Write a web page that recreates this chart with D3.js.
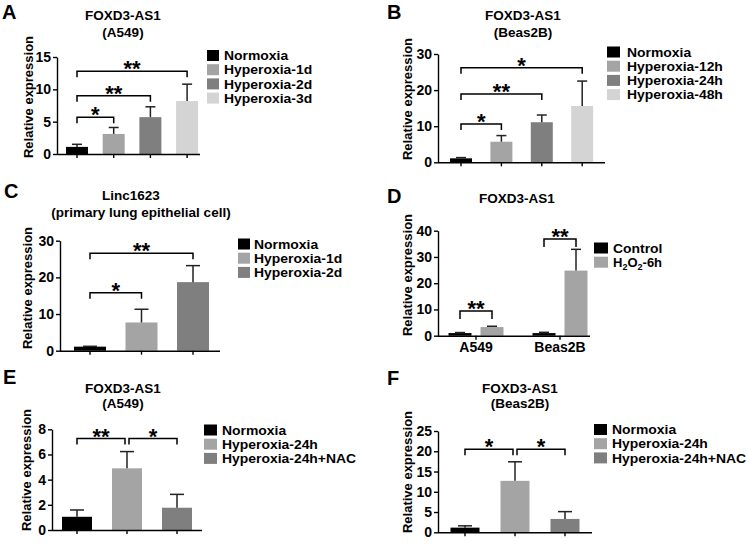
<!DOCTYPE html>
<html><head><meta charset="utf-8">
<script src="https://cdn.jsdelivr.net/npm/d3@7"></script>
<style>
body{margin:0;background:#fff;}
svg{display:block;font-family:"Liberation Sans",Arial,sans-serif;font-weight:bold;}
</style></head><body>
<svg id="fig" width="748" height="546"></svg>
<script>
// ---------------- DATA ----------------
// Panel A: FOXD3-AS1 (A549)
const aCategories = ["Normoxia", "Hyperoxia-1d", "Hyperoxia-2d", "Hyperoxia-3d"];
const aMeans = [1.1, 3.1, 5.7, 8.2];
const aErrors = [0.4, 1.0, 1.6, 2.6];
const aTicks = [0, 5, 10, 15];
const aSig = [[0, 1, "*", 5.7], [0, 2, "**", 9.0], [0, 3, "**", 12.8]];

// Panel B: FOXD3-AS1 (Beas2B)
const bCategories = ["Normoxia", "Hyperoxia-12h", "Hyperoxia-24h", "Hyperoxia-48h"];
const bMeans = [1.1, 5.7, 11.1, 15.6];
const bErrors = [0.2, 1.7, 2.0, 6.9];
const bTicks = [0, 10, 20, 30];
const bSig = [[0, 1, "*", 10.6], [0, 2, "**", 18.9], [0, 3, "*", 26.2]];

// Panel C: Linc1623 (primary lung epithelial cell)
const cCategories = ["Normoxia", "Hyperoxia-1d", "Hyperoxia-2d"];
const cMeans = [1.1, 7.7, 18.7];
const cErrors = [0.1, 3.6, 4.5];
const cTicks = [0, 10, 20, 30];
const cSig = [[0, 1, "*", 15.8], [0, 2, "**", 26.6]];

// Panel D: FOXD3-AS1, Control vs H2O2-6h
const dGroups = ["A549", "Beas2B"];
const dSeries = ["Control", "H2O2-6h"];
const dControlMeans = [1.0, 1.0];
const dControlErrors = [0.2, 0.3];
const dH2O2Means = [3.3, 24.8];
const dH2O2Errors = [0.3, 8.1];
const dTicks = [0, 10, 20, 30, 40];
const dSig = [[0, "**", 9.4], [1, "**", 36.8]];

// Panel E: FOXD3-AS1 (A549) NAC
const eCategories = ["Normoxia", "Hyperoxia-24h", "Hyperoxia-24h+NAC"];
const eMeans = [1.05, 4.9, 1.77];
const eErrors = [0.54, 1.33, 1.06];
const eTicks = [0, 2, 4, 6, 8];
const eSig = [[0, 1, "**", 7.26], [1, 2, "*", 7.26]];

// Panel F: FOXD3-AS1 (Beas2B) NAC
const fCategories = ["Normoxia", "Hyperoxia-24h", "Hyperoxia-24h+NAC"];
const fMeans = [1.15, 12.7, 3.3];
const fErrors = [0.45, 4.7, 1.8];
const fTicks = [0, 5, 10, 15, 20, 25];
const fSig = [[0, 1, "*", 20.5], [1, 2, "*", 20.5]];

// ---------------- STYLE ----------------
const BLACK = "#000000", LIGHT = "#a4a4a4", MID = "#7f7f7f", PALE = "#d4d4d4";
const svg = d3.select("#fig");
const FS = 13, TITLE_FS = 13.5, TICK_FS = 14, LEG_FS = 13, LEG_STRETCH = 1.07;

function yAxisLabel(g, cx, cy) {
  g.append("text").attr("transform", `translate(${cx + 4.6},${cy}) rotate(-90)`)
    .attr("text-anchor", "middle").attr("font-size", FS).text("Relative expression");
}
function titleLines(g, lines, cxs, ys) {
  lines.forEach((t, i) => g.append("text").attr("x", cxs[i]).attr("y", ys[i])
    .attr("text-anchor", "middle").attr("font-size", TITLE_FS).text(t));
}
function panelLetter(g, L, x, y) {
  g.append("text").attr("x", x).attr("y", y).attr("font-size", 20).text(L);
}
function styleAxis(sel) {
  sel.selectAll("path,line").attr("stroke", "#000").attr("stroke-width", 1.4);
  sel.selectAll("text").attr("font-size", TICK_FS).attr("font-weight", "bold")
    .attr("fill", "#000").attr("font-family", "Liberation Sans, Arial, sans-serif");
}
function legend(g, items, colors, bx, by, bw, tx) {
  items.forEach((t, i) => {
    const yy = by + i * 14.2;
    g.append("rect").attr("x", bx).attr("y", yy - 5.5).attr("width", bw).attr("height", 11).attr("fill", colors[i]);
    const tt = g.append("text").attr("x", tx).attr("y", yy + 4.6).attr("font-size", LEG_FS);
    if (t === "H2O2-6h") {
      tt.append("tspan").text("H");
      tt.append("tspan").attr("font-size", 9).attr("dy", 3).text("2");
      tt.append("tspan").attr("dy", -3).text("O");
      tt.append("tspan").attr("font-size", 9).attr("dy", 3).text("2");
      tt.append("tspan").attr("dy", -3).text("-6h");
    } else {
      tt.text(t);
      const w = tt.node().getComputedTextLength();
      tt.attr("textLength", w * LEG_STRETCH).attr("lengthAdjust", "spacingAndGlyphs");
    }
  });
}
function bracket(g, x1, x2, yb, tick, label) {
  g.append("path").attr("d", `M${x1},${yb + tick}V${yb}H${x2}V${yb + tick}`)
    .attr("fill", "none").attr("stroke", "#000").attr("stroke-width", 1.5);
  g.append("text").attr("x", (x1 + x2) / 2).attr("y", yb + 5).attr("text-anchor", "middle")
    .attr("font-size", 22).text(label);
}
function errBar(g, cx, yTop, yMean, capW) {
  g.append("line").attr("x1", cx).attr("x2", cx).attr("y1", yMean).attr("y2", yTop)
    .attr("stroke", "#222").attr("stroke-width", 1.5);
  g.append("line").attr("x1", cx - capW / 2).attr("x2", cx + capW / 2).attr("y1", yTop).attr("y2", yTop)
    .attr("stroke", "#222").attr("stroke-width", 1.5);
}

function barPanel(p) {
  const g = svg.append("g");
  const n = p.categories.length;
  const pad = 1 - p.bw / p.step;
  const x = d3.scaleBand().domain(p.categories)
    .range([p.c0 - p.step / 2, p.c0 + p.step * (n - 0.5)])
    .paddingInner(pad).paddingOuter(pad / 2);
  const y = d3.scaleLinear().domain([0, p.yMax]).range([p.y0, p.yTop]);
  const cx = c => x(c) + x.bandwidth() / 2;
  g.selectAll("rect.bar").data(p.means).join("rect").attr("class", "bar")
    .attr("x", (d, i) => x(p.categories[i])).attr("y", d => y(d))
    .attr("width", x.bandwidth()).attr("height", d => y(0) - y(d))
    .attr("fill", (d, i) => p.colors[i]);
  p.means.forEach((m, i) => errBar(g, cx(p.categories[i]), y(m + p.errors[i]), y(m), p.capW));
  const xa = g.append("g").attr("transform", `translate(0,${p.y0})`)
    .call(d3.axisBottom(x).tickSize(4).tickFormat("").tickSizeOuter(0));
  xa.select(".domain").attr("d", `M${p.axisX},0.5H${p.axisEnd}`);
  styleAxis(xa);
  const ya = g.append("g").attr("transform", `translate(${p.axisX},0)`)
    .call(d3.axisLeft(y).tickValues(p.ticks).tickSize(4).tickPadding(2).tickSizeOuter(0));
  styleAxis(ya);
  p.sig.forEach(s => {
    let x1 = cx(p.categories[s[0]]), x2 = cx(p.categories[s[1]]);
    if (p.split) { if (s[0] > 0) x1 += 2; else x2 -= 2; }
    bracket(g, x1, x2, y(s[3]), p.tick, s[2]);
  });
  yAxisLabel(g, p.ylab[0], p.ylab[1]);
  titleLines(g, p.title, p.titleX, p.titleY);
  panelLetter(g, p.letter, p.letterPos[0], p.letterPos[1]);
  legend(g, p.categories, p.colors, p.leg[0], p.leg[1], p.leg[2], p.leg[3]);
}

barPanel({letter: "A", letterPos: [2, 19], title: ["FOXD3-AS1", "(A549)"], titleX: [123, 123], titleY: [19.5, 36.5],
  categories: aCategories, means: aMeans, errors: aErrors, ticks: aTicks, sig: aSig, colors: [BLACK, LIGHT, MID, PALE],
  axisX: 57, axisEnd: 200, y0: 154, yTop: 57, yMax: 15, c0: 77, step: 36.7, bw: 22, capW: 10, tick: 6,
  ylab: [28.5, 97], leg: [207, 55.5, 12, 224]});

barPanel({letter: "B", letterPos: [387, 19], title: ["FOXD3-AS1", "(Beas2B)"], titleX: [523, 523], titleY: [19.5, 36.5],
  categories: bCategories, means: bMeans, errors: bErrors, ticks: bTicks, sig: bSig, colors: [BLACK, LIGHT, MID, PALE],
  axisX: 438, axisEnd: 605, y0: 162.3, yTop: 54, yMax: 30, c0: 461, step: 40.4, bw: 22, capW: 10, tick: 6,
  ylab: [407.5, 99], leg: [607, 52, 13, 627]});

barPanel({letter: "C", letterPos: [4, 198], title: ["Linc1623", "(primary lung epithelial cell)"], titleX: [131, 141], titleY: [199.5, 216.5],
  categories: cCategories, means: cMeans, errors: cErrors, ticks: cTicks, sig: cSig, colors: [BLACK, LIGHT, MID],
  axisX: 60, axisEnd: 220, y0: 350.7, yTop: 240.7, yMax: 30, c0: 90, step: 51.5, bw: 32, capW: 14, tick: 6,
  ylab: [27.5, 288], leg: [238, 244, 12, 254]});

barPanel({letter: "E", letterPos: [3, 384], title: ["FOXD3-AS1", "(A549)"], titleX: [123, 123], titleY: [392.5, 407.5],
  categories: eCategories, means: eMeans, errors: eErrors, ticks: eTicks, sig: eSig, colors: [BLACK, LIGHT, MID],
  axisX: 52, axisEnd: 202, y0: 530, yTop: 429.3, yMax: 8, c0: 77, step: 50, bw: 30, capW: 14, tick: 6, split: true,
  ylab: [26, 470], leg: [204, 430, 13, 222]});

barPanel({letter: "F", letterPos: [387, 385], title: ["FOXD3-AS1", "(Beas2B)"], titleX: [520, 520], titleY: [392.5, 407.5],
  categories: fCategories, means: fMeans, errors: fErrors, ticks: fTicks, sig: fSig, colors: [BLACK, LIGHT, MID],
  axisX: 438, axisEnd: 592, y0: 532.3, yTop: 431, yMax: 25, c0: 465, step: 50, bw: 29, capW: 14, tick: 6, split: true,
  ylab: [407.5, 472], leg: [594, 429.5, 13, 612]});

// Panel D grouped bars
(function () {
  const g = svg.append("g");
  const axisX = 438, axisEnd = 590, y0 = 335.7, yTop = 230.7;
  const x0 = d3.scaleBand().domain(dGroups).range([476 - 42, 560 + 42]).paddingInner(0).paddingOuter(0);
  const x1 = d3.scaleBand().domain(dSeries).range([x0.bandwidth() / 2 - 32, x0.bandwidth() / 2 + 32])
    .paddingInner(1 - 23 / 32).paddingOuter((1 - 23 / 32) / 2);
  const y = d3.scaleLinear().domain([0, 40]).range([y0, yTop]);
  const colors = [BLACK, LIGHT];
  const seriesMeans = [dControlMeans, dH2O2Means], seriesErr = [dControlErrors, dH2O2Errors];
  const cx = (gi, si) => x0(dGroups[gi]) + x1(dSeries[si]) + x1.bandwidth() / 2;
  dSeries.forEach((s, si) => {
    g.selectAll(null).data(seriesMeans[si]).join("rect")
      .attr("x", (d, gi) => x0(dGroups[gi]) + x1(s)).attr("y", d => y(d))
      .attr("width", x1.bandwidth()).attr("height", d => y(0) - y(d)).attr("fill", colors[si]);
    seriesMeans[si].forEach((m, gi) => errBar(g, cx(gi, si), y(m + seriesErr[si][gi]), y(m), 10));
  });
  const xa = g.append("g").attr("transform", `translate(0,${y0})`)
    .call(d3.axisBottom(x0).tickSize(4).tickPadding(2).tickSizeOuter(0));
  xa.select(".domain").attr("d", `M${axisX},0.5H${axisEnd}`);
  styleAxis(xa);
  const ya = g.append("g").attr("transform", `translate(${axisX},0)`)
    .call(d3.axisLeft(y).tickValues(dTicks).tickSize(4).tickPadding(2).tickSizeOuter(0));
  styleAxis(ya);
  dSig.forEach(s => bracket(g, cx(s[0], 0), cx(s[0], 1), y(s[2]), 8, s[1]));
  yAxisLabel(g, 407.5, 275);
  titleLines(g, ["FOXD3-AS1"], [517], [202.5]);
  panelLetter(g, "D", 387, 203);
  legend(g, dSeries, colors, 594, 248, 14, 613);
})();
</script></body></html>
